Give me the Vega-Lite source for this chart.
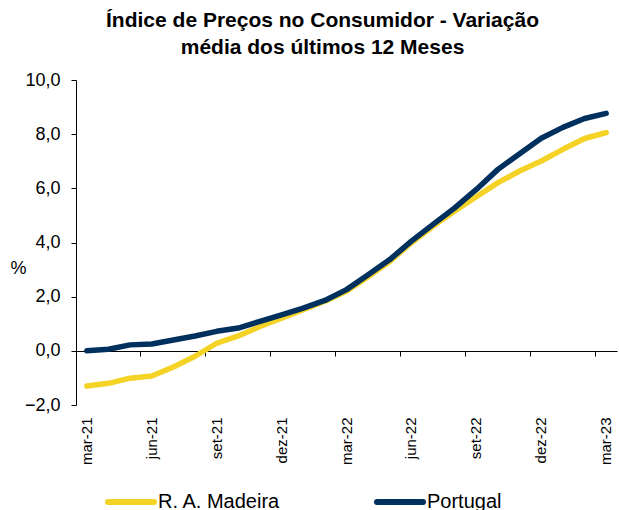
{
  "$schema": "https://vega.github.io/schema/vega-lite/v6.json",
  "autosize": {"type": "none"},
  "width": 541,
  "height": 325,
  "padding": {"left": 76, "top": 80, "right": 2, "bottom": 105},
  "background": "white",
  "config": {
    "font": "Liberation Sans",
    "view": {"stroke": null},
    "axis": {"labelColor": "black", "titleColor": "black", "domainColor": "black", "tickColor": "black", "labelFont": "Liberation Sans", "titleFont": "Liberation Sans"}
  },
  "title": {
    "text": ["Índice de Preços no Consumidor - Variação", "média dos últimos 12 Meses"],
    "font": "Liberation Sans",
    "fontSize": 21,
    "fontWeight": "bold",
    "color": "black",
    "lineHeight": 27,
    "anchor": "middle",
    "dx": -24,
    "offset": 13
  },
  "data": {
    "values": [
      {"mes": "mar-21", "serie": "Portugal", "valor": 0.0},
      {"mes": "abr-21", "serie": "Portugal", "valor": 0.06},
      {"mes": "mai-21", "serie": "Portugal", "valor": 0.22},
      {"mes": "jun-21", "serie": "Portugal", "valor": 0.25},
      {"mes": "jul-21", "serie": "Portugal", "valor": 0.40},
      {"mes": "ago-21", "serie": "Portugal", "valor": 0.55},
      {"mes": "set-21", "serie": "Portugal", "valor": 0.72},
      {"mes": "out-21", "serie": "Portugal", "valor": 0.84},
      {"mes": "nov-21", "serie": "Portugal", "valor": 1.09},
      {"mes": "dez-21", "serie": "Portugal", "valor": 1.33},
      {"mes": "jan-22", "serie": "Portugal", "valor": 1.58},
      {"mes": "fev-22", "serie": "Portugal", "valor": 1.86},
      {"mes": "mar-22", "serie": "Portugal", "valor": 2.26},
      {"mes": "abr-22", "serie": "Portugal", "valor": 2.81},
      {"mes": "mai-22", "serie": "Portugal", "valor": 3.37},
      {"mes": "jun-22", "serie": "Portugal", "valor": 4.05},
      {"mes": "jul-22", "serie": "Portugal", "valor": 4.67},
      {"mes": "ago-22", "serie": "Portugal", "valor": 5.28},
      {"mes": "set-22", "serie": "Portugal", "valor": 5.96},
      {"mes": "out-22", "serie": "Portugal", "valor": 6.70},
      {"mes": "nov-22", "serie": "Portugal", "valor": 7.28},
      {"mes": "dez-22", "serie": "Portugal", "valor": 7.85},
      {"mes": "jan-23", "serie": "Portugal", "valor": 8.25},
      {"mes": "fev-23", "serie": "Portugal", "valor": 8.58},
      {"mes": "mar-23", "serie": "Portugal", "valor": 8.77},
      {"mes": "mar-21", "serie": "R. A. Madeira", "valor": -1.30},
      {"mes": "abr-21", "serie": "R. A. Madeira", "valor": -1.20},
      {"mes": "mai-21", "serie": "R. A. Madeira", "valor": -1.01},
      {"mes": "jun-21", "serie": "R. A. Madeira", "valor": -0.93},
      {"mes": "jul-21", "serie": "R. A. Madeira", "valor": -0.60},
      {"mes": "ago-21", "serie": "R. A. Madeira", "valor": -0.20},
      {"mes": "set-21", "serie": "R. A. Madeira", "valor": 0.28},
      {"mes": "out-21", "serie": "R. A. Madeira", "valor": 0.55},
      {"mes": "nov-21", "serie": "R. A. Madeira", "valor": 0.90},
      {"mes": "dez-21", "serie": "R. A. Madeira", "valor": 1.21},
      {"mes": "jan-22", "serie": "R. A. Madeira", "valor": 1.52},
      {"mes": "fev-22", "serie": "R. A. Madeira", "valor": 1.83},
      {"mes": "mar-22", "serie": "R. A. Madeira", "valor": 2.20},
      {"mes": "abr-22", "serie": "R. A. Madeira", "valor": 2.74},
      {"mes": "mai-22", "serie": "R. A. Madeira", "valor": 3.30},
      {"mes": "jun-22", "serie": "R. A. Madeira", "valor": 3.99},
      {"mes": "jul-22", "serie": "R. A. Madeira", "valor": 4.60},
      {"mes": "ago-22", "serie": "R. A. Madeira", "valor": 5.16},
      {"mes": "set-22", "serie": "R. A. Madeira", "valor": 5.69},
      {"mes": "out-22", "serie": "R. A. Madeira", "valor": 6.21},
      {"mes": "nov-22", "serie": "R. A. Madeira", "valor": 6.64},
      {"mes": "dez-22", "serie": "R. A. Madeira", "valor": 7.01},
      {"mes": "jan-23", "serie": "R. A. Madeira", "valor": 7.44},
      {"mes": "fev-23", "serie": "R. A. Madeira", "valor": 7.84},
      {"mes": "mar-23", "serie": "R. A. Madeira", "valor": 8.06}
    ]
  },
  "encoding": {
    "x": {
      "field": "mes",
      "type": "ordinal",
      "sort": null,
      "scale": {"type": "band", "paddingInner": 0, "paddingOuter": 0},
      "axis": {
        "title": null,
        "values": ["mar-21", "jun-21", "set-21", "dez-21", "mar-22", "jun-22", "set-22", "dez-22", "mar-23"],
        "orient": "bottom",
        "offset": -54,
        "bandPosition": 0,
        "tickSize": 5,
        "tickWidth": 1,
        "domainWidth": 1,
        "labelAngle": -90,
        "labelAlign": "right",
        "labelBaseline": "middle",
        "labelPadding": 61,
        "labelFontSize": 15,
        "labelFont": "Liberation Sans"
      }
    },
    "y": {
      "field": "valor",
      "type": "quantitative",
      "scale": {"domain": [-2, 10], "nice": false, "zero": false},
      "axis": {
        "title": "%",
        "titleAngle": 0,
        "titleX": -58,
        "titleY": 188,
        "titleAlign": "center",
        "titleBaseline": "middle",
        "titleFontSize": 18,
        "titleFontWeight": "normal",
        "values": [-2, 0, 2, 4, 6, 8, 10],
        "labelExpr": "replace(format(datum.value, '.1f'), '.', ',')",
        "labelFontSize": 18,
        "labelPadding": 11,
        "tickSize": 5,
        "grid": false,
        "domainWidth": 1
      }
    },
    "color": {
      "field": "serie",
      "type": "nominal",
      "scale": {"domain": ["R. A. Madeira", "Portugal"], "range": ["#F4D226", "#00305E"]},
      "legend": {
        "title": null,
        "orient": "none",
        "direction": "horizontal",
        "legendX": 29,
        "legendY": 396,
        "columns": 2,
        "columnPadding": 84,
        "symbolType": "stroke",
        "symbolSize": 2116,
        "symbolStrokeWidth": 6,
        "labelFontSize": 20,
        "labelColor": "black",
        "labelOffset": 1,
        "labelFont": "Liberation Sans",
        "padding": 0,
        "encode": {"symbols": {"update": {"strokeCap": {"value": "round"}}}}
      }
    }
  },
  "layer": [
    {
      "transform": [{"filter": "datum.serie === 'R. A. Madeira'"}],
      "mark": {"type": "line", "strokeWidth": 5.5, "strokeCap": "round", "strokeJoin": "round"}
    },
    {
      "transform": [{"filter": "datum.serie === 'Portugal'"}],
      "mark": {"type": "line", "strokeWidth": 5.5, "strokeCap": "round", "strokeJoin": "round"}
    }
  ]
}
